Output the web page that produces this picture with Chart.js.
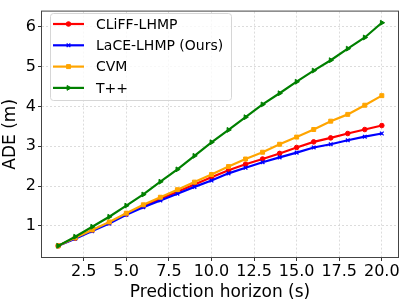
<!DOCTYPE html>
<html>
<head>
    <meta charset="UTF-8">
    <title>ADE vs prediction horizon</title>
    <script src="https://cdn.jsdelivr.net/npm/chart.js"></script>
    <style>
        body { margin: 0; background: #fff; }
    </style>
</head>
<body>
    <canvas id="chart" width="407" height="305"></canvas>
    <script>
        const horizons = [1, 2, 3, 4, 5, 6, 7, 8, 9, 10, 11, 12, 13, 14, 15, 16, 17, 18, 19, 20];
        const cliff = [0.5, 0.69, 0.89, 1.08, 1.30, 1.50, 1.68, 1.86, 2.04, 2.22, 2.40, 2.55, 2.68, 2.82, 2.97, 3.11, 3.21, 3.32, 3.42, 3.52];
        const lace = [0.5, 0.68, 0.87, 1.06, 1.28, 1.47, 1.64, 1.81, 1.98, 2.14, 2.32, 2.46, 2.60, 2.72, 2.84, 2.97, 3.05, 3.15, 3.24, 3.32];
        const cvm = [0.5, 0.70, 0.90, 1.10, 1.32, 1.53, 1.72, 1.91, 2.10, 2.29, 2.49, 2.68, 2.85, 3.05, 3.23, 3.42, 3.63, 3.80, 4.03, 4.27];
        const tpp = [0.5, 0.73, 0.98, 1.23, 1.51, 1.79, 2.11, 2.42, 2.76, 3.10, 3.41, 3.73, 4.05, 4.33, 4.62, 4.90, 5.16, 5.45, 5.73, 6.10];
        const xTicks = [2.5, 5.0, 7.5, 10.0, 12.5, 15.0, 17.5, 20.0];
        const yTicks = [1, 2, 3, 4, 5, 6];

        const FONT = "'DejaVu Sans', sans-serif";

        function series(label, data, color, style, radius, rotation, order) {
            return {
                label,
                data: horizons.map((x, i) => ({ x, y: data[i] })),
                borderColor: color,
                backgroundColor: color,
                borderWidth: 2.2,
                pointStyle: style,
                pointRadius: radius,
                pointRotation: rotation,
                pointBorderWidth: style === 'crossRot' ? 1.3 : 1,
                pointBorderColor: color,
                pointBackgroundColor: color,
                tension: 0,
                order
            };
        }

        const datasets = [
            series('CLiFF-LHMP', cliff, '#ff0000', 'circle', 2.3, 0, 3),
            series('LaCE-LHMP (Ours)', lace, '#0000ff', 'crossRot', 2.6, 0, 2),
            series('CVM', cvm, '#ffa500', 'rect', 2.8, 0, 1),
            series('T++', tpp, '#008000', 'triangle', 2.8, 90, 0)
        ];

        // matplotlib style frame + legend inside the plot
        const frameLegend = {
            id: 'frameLegend',
            afterDatasetsDraw(chart) {
                const { ctx, chartArea: a } = chart;
                ctx.save();
                ctx.strokeStyle = '#444';
                ctx.lineWidth = 1;
                ctx.strokeRect(a.left - 0.5, a.top - 0.5, a.right - a.left + 1, a.bottom - a.top + 1);

                // legend box
                const bx = 50, by = 13, bw = 181, bh = 87;
                ctx.fillStyle = 'rgba(255,255,255,0.8)';
                ctx.strokeStyle = '#d6d6d6';
                ctx.beginPath();
                ctx.roundRect(bx + 0.5, by + 0.5, bw, bh, 3);
                ctx.fill();
                ctx.stroke();

                ctx.font = '14px ' + FONT;
                ctx.textBaseline = 'middle';
                chart.data.datasets.forEach((ds, i) => {
                    const y = 24 + i * 21.3;
                    ctx.strokeStyle = ds.borderColor;
                    ctx.lineWidth = 2.2;
                    ctx.beginPath();
                    ctx.moveTo(53, y);
                    ctx.lineTo(84, y);
                    ctx.stroke();
                    ctx.fillStyle = ds.borderColor;
                    ctx.lineWidth = ds.pointBorderWidth;
                    Chart.helpers.drawPoint(ctx, {
                        pointStyle: ds.pointStyle,
                        radius: ds.pointRadius,
                        rotation: ds.pointRotation,
                        borderWidth: ds.pointBorderWidth
                    }, 68.5, y);
                    ctx.fillStyle = '#000';
                    ctx.fillText(ds.label, 96, y + 1);
                });
                ctx.restore();
            }
        };

        new Chart(document.getElementById('chart'), {
            type: 'line',
            data: { datasets },
            options: {
                responsive: false,
                animation: false,
                layout: { padding: { top: 5, right: 9, left: 0, bottom: 0 } },
                plugins: { legend: { display: false }, tooltip: { enabled: false } },
                scales: {
                    x: {
                        type: 'linear',
                        min: 0.05,
                        max: 20.95,
                        afterFit: s => { s.height = 48; },
                        afterBuildTicks: s => { s.ticks = xTicks.map(v => ({ value: v })); },
                        ticks: {
                            color: '#000',
                            font: { family: FONT, size: 16 },
                            padding: 1,
                            maxRotation: 0,
                            autoSkip: false,
                            callback: v => Number(v).toFixed(1)
                        },
                        grid: { color: '#d4d4d4', lineWidth: 0.8, tickLength: 4, tickColor: '#333', tickWidth: 1 },
                        border: { display: false, dash: [2, 2] },
                        title: {
                            display: true,
                            text: 'Prediction horizon (s)',
                            color: '#000',
                            font: { family: FONT, size: 17 },
                            padding: { top: 0, bottom: 2 }
                        }
                    },
                    y: {
                        min: 0.22,
                        max: 6.38,
                        afterFit: s => { s.width = 42; },
                        afterBuildTicks: s => { s.ticks = yTicks.map(v => ({ value: v })); },
                        ticks: {
                            color: '#000',
                            font: { family: FONT, size: 16 },
                            padding: 2
                        },
                        grid: { color: '#d4d4d4', lineWidth: 0.8, tickLength: 4, tickColor: '#333', tickWidth: 1 },
                        border: { display: false, dash: [2, 2] },
                        title: {
                            display: true,
                            text: 'ADE (m)',
                            color: '#000',
                            font: { family: FONT, size: 17 },
                            padding: { top: 0, bottom: 3 }
                        }
                    }
                }
            },
            plugins: [frameLegend]
        });
    </script>
</body>
</html>
